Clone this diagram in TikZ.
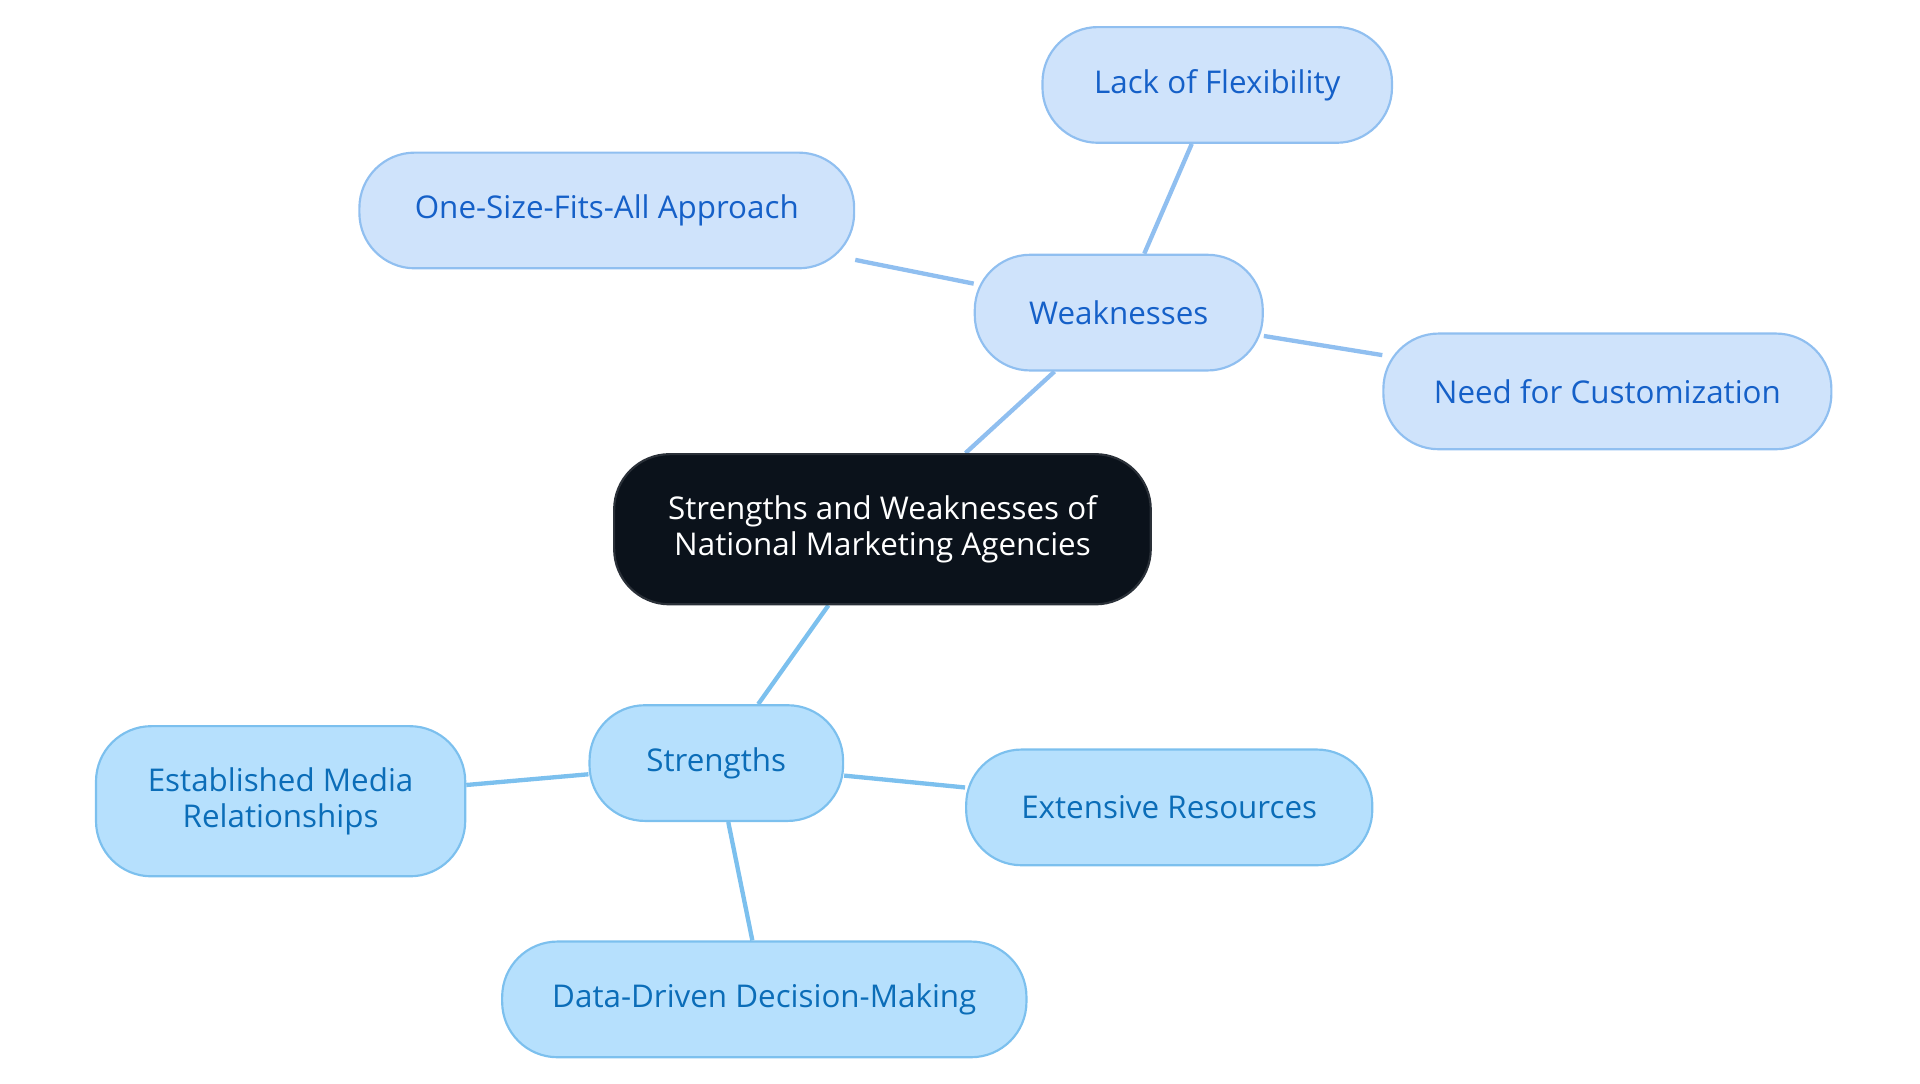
\documentclass[tikz,border=0pt]{standalone}
\usepackage{fontspec}
\setmainfont{Open Sans}
\usetikzlibrary{backgrounds}
\begin{document}
\begin{tikzpicture}[x=0.02cm,y=-0.02cm,
 base/.style={draw,line width=1pt,rounded corners=0.9cm,align=center,inner sep=0pt,font=\fontsize{14.5}{17}\selectfont},
 weak/.style={base,fill=wfill,draw=wdraw,text=wtext},
 str/.style={base,fill=sfill,draw=sdraw,text=stext},
 wl/.style={draw=wdraw,line width=2pt},
 sl/.style={draw=sdraw,line width=2pt}]
\definecolor{wfill}{HTML}{CFE3FB}\definecolor{wdraw}{HTML}{90BFF0}\definecolor{wtext}{HTML}{1560C8}
\definecolor{sfill}{HTML}{B6E0FD}\definecolor{sdraw}{HTML}{7CC0EE}\definecolor{stext}{HTML}{0B6DB8}
\definecolor{cfill}{HTML}{0B121B}\definecolor{cdraw}{HTML}{2A3038}
\useasboundingbox (0,0) rectangle (1560,880);
\node[base,fill=cfill,draw=cdraw,text=white,minimum width=436*0.02cm,minimum height=122*0.02cm] (c) at (717,430) {Strengths and Weaknesses of\\National Marketing Agencies};
\node[weak,minimum width=234*0.02cm,minimum height=94*0.02cm] (w) at (909,254) {Weaknesses};
\node[weak,minimum width=284*0.02cm,minimum height=94*0.02cm] (w1) at (989,69) {Lack of Flexibility};
\node[weak,minimum width=402*0.02cm,minimum height=94*0.02cm] (w2) at (493,171) {One-Size-Fits-All Approach};
\node[weak,minimum width=364*0.02cm,minimum height=94*0.02cm] (w3) at (1306,318) {Need for Customization};
\node[str,minimum width=206*0.02cm,minimum height=94*0.02cm] (s) at (582,620) {Strengths};
\node[str,minimum width=300*0.02cm,minimum height=122*0.02cm] (s1) at (228,651) {Established Media\\Relationships};
\node[str,minimum width=330*0.02cm,minimum height=94*0.02cm] (s2) at (950,656) {Extensive Resources};
\node[str,minimum width=426*0.02cm,minimum height=94*0.02cm] (s3) at (621,812) {Data-Driven Decision-Making};
\begin{pgfonlayer}{background}
\draw[wl] (c) -- (w); \draw[wl] (w) -- (w1); \draw[wl] (w) -- (w2); \draw[wl] (w) -- (w3);
\draw[sl] (c) -- (s); \draw[sl] (s) -- (s1); \draw[sl] (s) -- (s2); \draw[sl] (s) -- (s3);
\end{pgfonlayer}
\end{tikzpicture}
\end{document}
